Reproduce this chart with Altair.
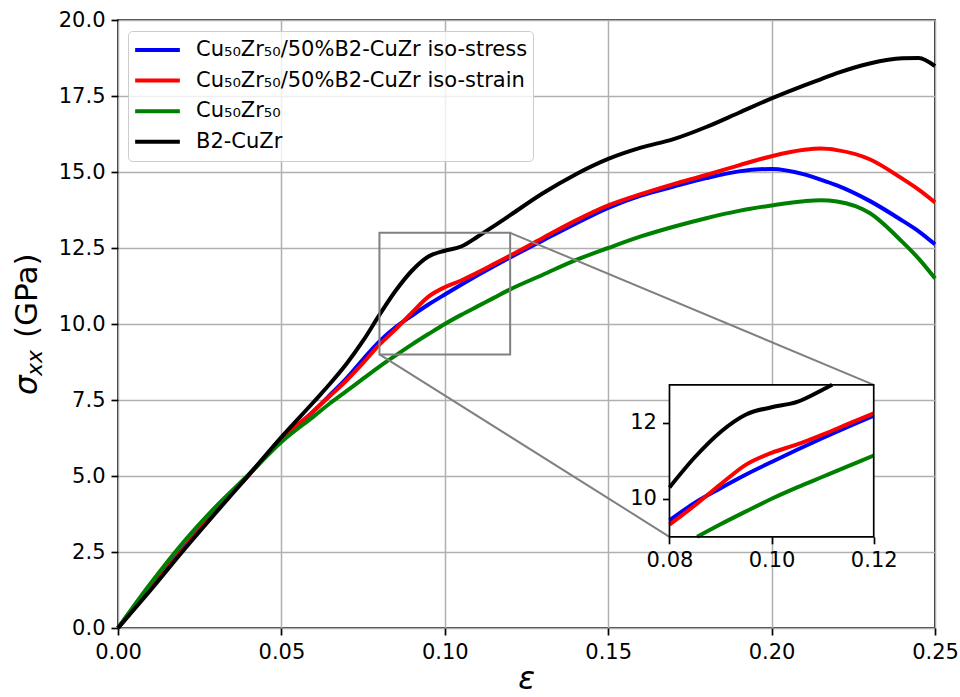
import altair as alt
import pandas as pd

# ---- data -------------------------------------------------------------
strain = [0, 0.01, 0.02, 0.03, 0.04, 0.05, 0.06, 0.065, 0.07, 0.075,
          0.08, 0.085, 0.09, 0.095, 0.10, 0.105, 0.11, 0.115, 0.12,
          0.13, 0.14, 0.15, 0.16, 0.17, 0.18, 0.19, 0.20, 0.21, 0.215,
          0.22, 0.23, 0.24, 0.245, 0.25]

iso_stress = [0, 1.33, 2.62, 3.88, 5.04, 6.18, 7.15, 7.68, 8.22, 8.84,
              9.43, 9.9, 10.28, 10.64, 10.97, 11.29, 11.6, 11.9, 12.19,
              12.75, 13.3, 13.82, 14.22, 14.52, 14.8, 15.02, 15.1, 14.92, 14.75,
              14.56, 14.05, 13.4, 13.05, 12.62]

iso_strain = [0, 1.3, 2.6, 3.86, 5.03, 6.2, 7.15, 7.65, 8.15, 8.72,
              9.32, 9.83, 10.38, 10.9, 11.21, 11.43, 11.69, 11.97, 12.25,
              12.83, 13.4, 13.9, 14.27, 14.6, 14.9, 15.22, 15.52, 15.73, 15.77,
              15.72, 15.42, 14.78, 14.42, 14.0]

glass = [0, 1.47, 2.82, 4.0, 5.05, 6.12, 6.97, 7.4, 7.8, 8.2,
         8.6, 8.97, 9.33, 9.67, 10.0, 10.3, 10.58, 10.86, 11.14,
         11.62, 12.1, 12.5, 12.88, 13.2, 13.48, 13.72, 13.9, 14.04, 14.07,
         14.03, 13.65, 12.7, 12.15, 11.5]

b2 = [0, 1.25, 2.55, 3.8, 5.03, 6.28, 7.45, 8.05, 8.7, 9.45,
      10.3, 11.1, 11.76, 12.22, 12.41, 12.55, 12.87, 13.22, 13.58,
      14.3, 14.92, 15.43, 15.8, 16.08, 16.48, 16.95, 17.42, 17.85, 18.05,
      18.25, 18.57, 18.74, 18.75, 18.48]

SERIES = [
    "Cu₅₀Zr₅₀/50%B2-CuZr iso-stress",
    "Cu₅₀Zr₅₀/50%B2-CuZr iso-strain",
    "Cu₅₀Zr₅₀",
    "B2-CuZr",
]
VALUES = [iso_stress, iso_strain, glass, b2]
COLORS = ["#0000ff", "#ff0000", "#008000", "#000000"]

X_TICKS = [0.0, 0.05, 0.10, 0.15, 0.20, 0.25]
Y_TICKS = [0.0, 2.5, 5.0, 7.5, 10.0, 12.5, 15.0, 17.5, 20.0]
ZOOM_X = [0.08, 0.12]
ZOOM_Y = [9.0, 13.0]
INSET_X_TICKS = [0.08, 0.10, 0.12]
INSET_Y_TICKS = [10, 12]

# ---- layout -------------------------------------------------------------
W, H = 817, 608
PAD = {"left": 118, "top": 20, "right": 960 - 118 - W, "bottom": 697 - 20 - H}
X_DOMAIN = [0, 0.25]
Y_DOMAIN = [0, 20]
# inset axes box as fractions of the main axes: left, bottom, width, height
INSET_BOX = [0.675, 0.15, 0.25, 0.25]
FONT = "DejaVu Sans"
LW = 4
FRAME_W = 1.7
GRAY = "#808080"


def clip_window(xs, ys, xlim, ylim):
    """Part of a polyline lying inside the window, with boundary crossings."""
    pts = [(x, y) for x, y in zip(xs, ys) if xlim[0] - 1e-12 <= x <= xlim[1] + 1e-12]
    out = []
    for (xa, ya), (xb, yb) in zip(pts[:-1], pts[1:]):
        dy = yb - ya
        if dy == 0:
            if not (ylim[0] <= ya <= ylim[1]):
                continue
            t0, t1 = 0.0, 1.0
        else:
            ta = (ylim[0] - ya) / dy
            tb = (ylim[1] - ya) / dy
            t0, t1 = max(0.0, min(ta, tb)), min(1.0, max(ta, tb))
            if t0 > t1:
                continue
        for t in (t0, t1):
            p = (xa + t * (xb - xa), ya + t * dy)
            if not out or abs(out[-1][0] - p[0]) > 1e-12:
                out.append(p)
    return out


# ---- main axes ------------------------------------------------------------
main_x_scale = alt.Scale(domain=X_DOMAIN, nice=False, zero=False)
main_y_scale = alt.Scale(domain=Y_DOMAIN, nice=False, zero=False)
main_x_axis = alt.Axis(values=X_TICKS, format=".2f", title=None, grid=True, ticks=True)
main_y_axis = alt.Axis(values=Y_TICKS, format=".1f", title=None, grid=True, ticks=True)

legend = alt.Legend(
    title=None,
    orient="none",
    legendX=10,
    legendY=11,
    symbolType="stroke",
    symbolStrokeWidth=LW,
    symbolSize=2000,
    clipHeight=28,
    rowPadding=2.6,
    labelFont=FONT,
    labelFontSize=21,
    labelColor="black",
    labelOffset=14,
    labelLimit=0,
    fillColor="rgba(255,255,255,0.8)",
    strokeColor="#cccccc",
    cornerRadius=4,
    padding=5,
)
color = alt.Color(
    "series:N",
    scale=alt.Scale(domain=SERIES, range=COLORS),
    legend=legend,
)

curve_layers = []
for name, vals in zip(SERIES, VALUES):
    df = pd.DataFrame({"strain": strain, "stress": vals, "series": name})
    curve_layers.append(
        alt.Chart(df)
        .mark_line(strokeWidth=LW, interpolate="monotone")
        .encode(
            x=alt.X("strain:Q", scale=main_x_scale, axis=main_x_axis),
            y=alt.Y("stress:Q", scale=main_y_scale, axis=main_y_axis),
            color=color,
        )
    )

zoom_df = pd.DataFrame({"x0": [ZOOM_X[0]], "x1": [ZOOM_X[1]], "y0": [ZOOM_Y[0]], "y1": [ZOOM_Y[1]]})
zoom_rect = (
    alt.Chart(zoom_df)
    .mark_rect(fillOpacity=0, stroke=GRAY, strokeWidth=2)
    .encode(
        x=alt.X("x0:Q", scale=main_x_scale, axis=main_x_axis),
        x2="x1:Q",
        y=alt.Y("y0:Q", scale=main_y_scale, axis=main_y_axis),
        y2="y1:Q",
    )
)

# connector lines from the zoom box corners to the inset corners
ix0, iy0, iw, ih = INSET_BOX
inset_left = X_DOMAIN[0] + ix0 * (X_DOMAIN[1] - X_DOMAIN[0])
inset_right = X_DOMAIN[0] + (ix0 + iw) * (X_DOMAIN[1] - X_DOMAIN[0])
inset_bottom = Y_DOMAIN[0] + iy0 * (Y_DOMAIN[1] - Y_DOMAIN[0])
inset_top = Y_DOMAIN[0] + (iy0 + ih) * (Y_DOMAIN[1] - Y_DOMAIN[0])
conn_df = pd.DataFrame({
    "xa": [ZOOM_X[1], ZOOM_X[0]],
    "ya": [ZOOM_Y[1], ZOOM_Y[0]],
    "xb": [inset_right, inset_left],
    "yb": [inset_top, inset_bottom],
})
connectors = (
    alt.Chart(conn_df)
    .mark_rule(color=GRAY, strokeWidth=2)
    .encode(
        x=alt.X("xa:Q", scale=main_x_scale, axis=main_x_axis),
        y=alt.Y("ya:Q", scale=main_y_scale, axis=main_y_axis),
        x2="xb:Q",
        y2="yb:Q",
    )
)

# axis titles: sigma_xx (GPa) rotated, epsilon below
title_df = pd.DataFrame({"t": [0]})
sigma = alt.Chart(title_df).mark_text(
    text="σ", font=FONT, fontStyle="italic", fontSize=31, angle=270,
    align="left", baseline="alphabetic", color="black",
).encode(x=alt.value(-81), y=alt.value(375))
sub_xx = alt.Chart(title_df).mark_text(
    text="xx", font=FONT, fontStyle="italic", fontSize=22, angle=270,
    align="left", baseline="alphabetic", color="black",
).encode(x=alt.value(-76), y=alt.value(356))
gpa = alt.Chart(title_df).mark_text(
    text="(GPa)", font=FONT, fontSize=31, angle=270,
    align="left", baseline="alphabetic", color="black",
).encode(x=alt.value(-81), y=alt.value(318))
eps = alt.Chart(title_df).mark_text(
    text="ε", font=FONT, fontStyle="italic", fontSize=31,
    align="center", baseline="alphabetic", color="black",
).encode(x=alt.value(W / 2), y=alt.value(H + 61))

main = alt.layer(*curve_layers, zoom_rect, connectors, sigma, sub_xx, gpa, eps)

# ---- inset axes -----------------------------------------------------------
in_x_scale = alt.Scale(domain=ZOOM_X, range=[ix0 * W, (ix0 + iw) * W], nice=False, zero=False)
in_y_scale = alt.Scale(domain=ZOOM_Y, range=[(1 - iy0) * H, (1 - iy0 - ih) * H], nice=False, zero=False)
in_x_axis = alt.Axis(values=INSET_X_TICKS, format=".2f", orient="bottom", ticks=True,
                     offset=-iy0 * H, grid=False, title=None, domain=False)
in_y_axis = alt.Axis(values=INSET_Y_TICKS, format="d", orient="left", ticks=True,
                     offset=-ix0 * W, grid=False, title=None, domain=False)

inset_bg = (
    alt.Chart(zoom_df)
    .mark_rect(fill="white", strokeWidth=0)
    .encode(
        x=alt.X("x0:Q", scale=in_x_scale, axis=in_x_axis),
        x2="x1:Q",
        y=alt.Y("y0:Q", scale=in_y_scale, axis=in_y_axis),
        y2="y1:Q",
    )
)
inset_lines = []
for name, vals, col in zip(SERIES, VALUES, COLORS):
    pts = clip_window(strain, vals, ZOOM_X, ZOOM_Y)
    df = pd.DataFrame({"strain": [p[0] for p in pts], "stress": [p[1] for p in pts]})
    inset_lines.append(
        alt.Chart(df)
        .mark_line(strokeWidth=LW, interpolate="monotone", color=col)
        .encode(
            x=alt.X("strain:Q", scale=in_x_scale, axis=in_x_axis),
            y=alt.Y("stress:Q", scale=in_y_scale, axis=in_y_axis),
        )
    )
inset_frame = (
    alt.Chart(zoom_df)
    .mark_rect(fillOpacity=0, stroke="black", strokeWidth=FRAME_W)
    .encode(
        x=alt.X("x0:Q", scale=in_x_scale, axis=in_x_axis),
        x2="x1:Q",
        y=alt.Y("y0:Q", scale=in_y_scale, axis=in_y_axis),
        y2="y1:Q",
    )
)
inset = alt.layer(inset_bg, *inset_lines, inset_frame)

chart = (
    alt.layer(main, inset)
    .resolve_scale(x="independent", y="independent")
    .properties(width=W, height=H, autosize=alt.AutoSizeParams(type="none"), padding=PAD)
    .configure_view(stroke="black", strokeWidth=FRAME_W)
    .configure_axis(
        labelFont=FONT,
        labelFontSize=21,
        labelColor="black",
        labelPadding=6,
        labelFlush=False,
        labelOverlap=False,
        ticks=True,
        tickColor="black",
        tickWidth=FRAME_W,
        tickSize=7,
        gridColor="#b0b0b0",
        gridWidth=1.5,
        domain=False,
    )
)

chart.save("out.html", embed_options={"renderer": "svg", "actions": False})
